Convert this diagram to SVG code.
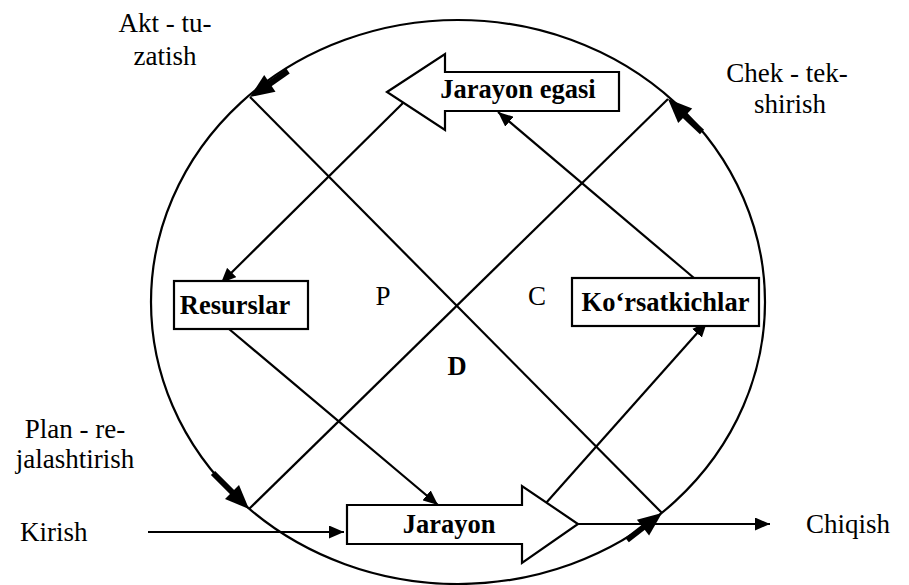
<svg xmlns="http://www.w3.org/2000/svg" width="909" height="585" viewBox="0 0 909 585">
<defs>
<marker id="ah" viewBox="0 0 15 13" refX="15" refY="6.5" markerWidth="15" markerHeight="13" markerUnits="userSpaceOnUse" orient="auto">
<path d="M0,0 L15,6.5 L0,13 Z" fill="#000"/>
</marker>
<style>
.ln{stroke:#000;stroke-width:2.2;fill:none}
.box{fill:#fff;stroke:#000;stroke-width:2.2}
.thick{stroke:#000;stroke-width:6;fill:none}
</style>
</defs>
<rect width="909" height="585" fill="#fff"/>
<g id="cycle">
<ellipse cx="458" cy="302" rx="307" ry="282" class="ln"/>
<line x1="250" y1="97" x2="662" y2="513" class="ln"/>
<line x1="668" y1="99" x2="249" y2="509" class="ln"/>
</g>
<g id="cycle-arrows">
<line x1="288" y1="71" x2="268" y2="85" class="thick"/>
<polygon points="250,97 275.5,91.7 264.2,75.1" fill="#000"/>
<line x1="702" y1="132" x2="684" y2="115" class="thick"/>
<polygon points="668,99 692.2,108.5 678.2,122.9" fill="#000"/>
<line x1="213" y1="473" x2="233" y2="493" class="thick"/>
<polygon points="249,509 239,485 225,499" fill="#000"/>
<line x1="627" y1="540" x2="645" y2="526" class="thick"/>
<polygon points="662,513 649.1,535.6 636.9,519.8" fill="#000"/>
</g>
<g id="connectors">
<line x1="403" y1="103" x2="221" y2="283" class="ln" marker-end="url(#ah)"/>
<line x1="694" y1="278" x2="498" y2="112" class="ln" marker-end="url(#ah)"/>
<line x1="229" y1="329" x2="438" y2="505" class="ln" marker-end="url(#ah)"/>
<line x1="546" y1="503" x2="707" y2="322" class="ln" marker-end="url(#ah)"/>
<line x1="148" y1="532" x2="344" y2="532" class="ln" marker-end="url(#ah)"/>
<line x1="578" y1="524" x2="770" y2="524" class="ln" marker-end="url(#ah)"/>
</g>
<g id="owner">
<polygon points="387,92 445,54 445,72 619,72 619,111 445,111 445,130" class="box"/>
<text x="518" y="98" font-family="Liberation Serif" font-size="26.5" font-weight="bold" text-anchor="middle">Jarayon egasi</text>
</g>
<g id="process">
<polygon points="347,505 522,505 522,486 578,524 522,563 522,544 347,544" class="box"/>
<text x="449" y="533" font-family="Liberation Serif" font-size="26.5" font-weight="bold" text-anchor="middle">Jarayon</text>
</g>
<g id="resources">
<rect x="174" y="281" width="134" height="48" class="box"/>
<text x="235" y="314" font-family="Liberation Serif" font-size="26.5" font-weight="bold" text-anchor="middle">Resurslar</text>
</g>
<g id="indicators">
<rect x="572" y="278" width="187" height="48" class="box"/>
<text x="665.5" y="311" font-family="Liberation Serif" font-size="26.5" font-weight="bold" text-anchor="middle">Ko‘rsatkichlar</text>
</g>
<g id="labels">
<text x="383" y="305" font-family="Liberation Serif" font-size="27" text-anchor="middle">P</text>
<text x="537" y="305" font-family="Liberation Serif" font-size="27" text-anchor="middle">C</text>
<text x="457" y="375" font-family="Liberation Serif" font-size="26.5" font-weight="bold" text-anchor="middle">D</text>
<text x="165" y="32" font-family="Liberation Serif" font-size="27" text-anchor="middle">Akt - tu-</text>
<text x="165" y="65" font-family="Liberation Serif" font-size="27" text-anchor="middle">zatish</text>
<text x="787" y="82" font-family="Liberation Serif" font-size="27" text-anchor="middle">Chek - tek-</text>
<text x="790" y="113" font-family="Liberation Serif" font-size="27" text-anchor="middle">shirish</text>
<text x="75" y="438" font-family="Liberation Serif" font-size="27" text-anchor="middle">Plan - re-</text>
<text x="75" y="468" font-family="Liberation Serif" font-size="27" text-anchor="middle">jalashtirish</text>
<text x="20" y="541" font-family="Liberation Serif" font-size="27">Kirish</text>
<text x="806" y="533" font-family="Liberation Serif" font-size="27">Chiqish</text>
</g>
</svg>
